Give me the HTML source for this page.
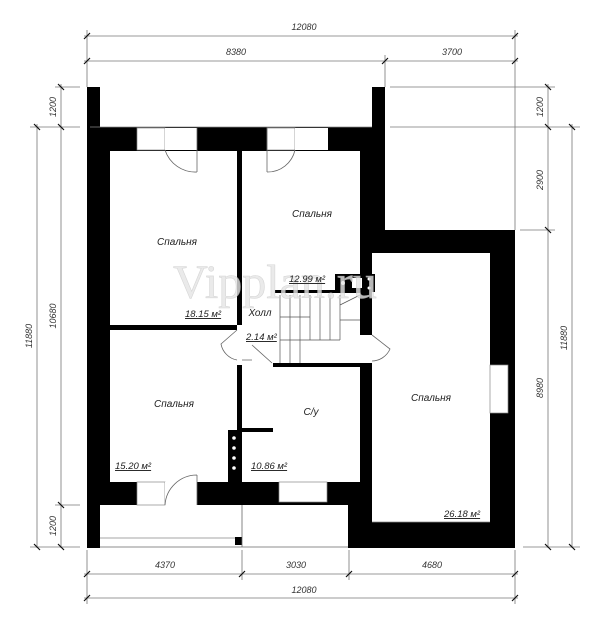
<!DOCTYPE html>
<html><head><meta charset="utf-8"><style>html,body{margin:0;padding:0;background:#fff}svg{display:block}</style></head>
<body>
<svg width="600" height="626" viewBox="0 0 600 626" xmlns="http://www.w3.org/2000/svg" font-family="Liberation Sans, sans-serif">
<rect width="600" height="626" fill="#fff"/>
<g stroke="#777" stroke-width="0.8" fill="none">
<line x1="84" y1="36" x2="518" y2="36"/>
<line x1="84" y1="61" x2="518" y2="61"/>
<line x1="87" y1="30" x2="87" y2="87"/>
<line x1="385" y1="55" x2="385" y2="87"/>
<line x1="515" y1="30" x2="515" y2="230"/>
<line x1="61" y1="84" x2="61" y2="548"/>
<line x1="37" y1="124" x2="37" y2="548"/>
<line x1="30" y1="127" x2="80" y2="127"/>
<line x1="55" y1="87" x2="80" y2="87"/>
<line x1="30" y1="547" x2="80" y2="547"/>
<line x1="55" y1="505" x2="80" y2="505"/>
<line x1="548" y1="84" x2="548" y2="548"/>
<line x1="572" y1="124" x2="572" y2="548"/>
<line x1="390" y1="87" x2="555" y2="87"/>
<line x1="390" y1="127" x2="580" y2="127"/>
<line x1="520" y1="230" x2="555" y2="230"/>
<line x1="523" y1="547" x2="580" y2="547"/>
<line x1="84" y1="574" x2="518" y2="574"/>
<line x1="84" y1="598" x2="518" y2="598"/>
<line x1="87" y1="550" x2="87" y2="604"/>
<line x1="242" y1="550" x2="242" y2="580"/>
<line x1="349" y1="550" x2="349" y2="580"/>
<line x1="515" y1="550" x2="515" y2="604"/>
</g>
<g stroke="#111" stroke-width="1.2">
<path d="M84 39l6-6M512 39l6-6M84 64l6-6M382 64l6-6M512 64l6-6M84 577l6-6M239 577l6-6M346 577l6-6M512 577l6-6M84 601l6-6M512 601l6-6"/>
<path d="M58 84l6 6M58 124l6 6M58 502l6 6M58 544l6 6M34 124l6 6M34 544l6 6M545 84l6 6M545 124l6 6M545 227l6 6M545 544l6 6M569 124l6 6M569 544l6 6"/>
</g>
<g font-size="9" font-style="italic" fill="#333" text-anchor="middle">
<text x="304" y="30">12080</text><text x="236" y="55">8380</text><text x="452" y="55">3700</text>
<text x="165" y="568">4370</text><text x="296" y="568">3030</text><text x="432" y="568">4680</text><text x="304" y="593">12080</text>
<text transform="translate(56 107) rotate(-90)">1200</text>
<text transform="translate(56 316) rotate(-90)">10680</text>
<text transform="translate(56 526) rotate(-90)">1200</text>
<text transform="translate(32 336) rotate(-90)">11880</text>
<text transform="translate(543 107) rotate(-90)">1200</text>
<text transform="translate(543 180) rotate(-90)">2900</text>
<text transform="translate(543 388) rotate(-90)">8980</text>
<text transform="translate(567 338) rotate(-90)">11880</text>
</g>
<g fill="#000">
<rect x="87" y="87" width="13" height="461"/>
<rect x="100" y="127" width="10" height="378"/>
<rect x="100" y="127" width="285" height="24"/>
<rect x="372" y="87" width="13" height="166"/>
<rect x="360" y="127" width="25" height="126"/>
<rect x="360" y="230" width="155" height="23"/>
<rect x="360" y="253" width="12" height="295"/>
<rect x="348" y="505" width="24" height="43"/>
<rect x="490" y="230" width="25" height="318"/>
<rect x="348" y="522" width="167" height="26"/>
<rect x="237" y="151" width="5" height="174"/>
<rect x="110" y="325" width="127" height="5"/>
<rect x="237" y="365" width="5" height="117"/>
<rect x="228" y="430" width="14" height="52"/>
<rect x="242" y="428" width="31" height="4"/>
<rect x="110" y="482" width="250" height="23"/>
<rect x="275" y="290" width="85" height="3"/>
<rect x="273" y="363" width="87" height="4"/>
<rect x="335" y="274" width="40" height="18"/>
<rect x="235" y="537" width="7" height="8"/>
</g>
<g fill="#fff" stroke="#888" stroke-width="0.7">
<rect x="137" y="128" width="28" height="22"/>
<rect x="165" y="128" width="32" height="22" stroke="none"/>
<rect x="267" y="128" width="28" height="22"/>
<rect x="295" y="128" width="33" height="22" stroke="none"/>
<rect x="137" y="482" width="28" height="23"/>
<rect x="165" y="482" width="32" height="23" stroke="none"/>
<rect x="279" y="482" width="48" height="20"/>
<rect x="490" y="365" width="18" height="48"/>
<rect x="360" y="335" width="12" height="28" stroke="none"/>
<rect x="237" y="330" width="5" height="35" stroke="none"/>
</g>
<g fill="none" stroke="#666" stroke-width="0.8">
<path d="M197 128v44M165 150a32 32 0 0 0 32 22"/>
<path d="M267 128v44M295 150a28 28 0 0 1 -28 22"/>
<path d="M197 505v-30M165 505a32 32 0 0 1 32 -30"/>
<path d="M372 335l18 14a20 20 0 0 1-18 12"/>
<path d="M237 330l-16 14a20 20 0 0 0 16 16"/>
<path d="M242 360l10 0M252 345l20 18"/>
<path d="M90 127h282" stroke="#888"/>
<path d="M100 538h135" stroke="#888"/>
<path d="M100 547h248"/>
<path d="M242 505v42"/>
<path d="M372 522h118" stroke="#888"/>
</g>
<g stroke="#555" stroke-width="0.7" fill="none">
<path d="M280 295v68M290 295v68M300 295v68M310 295v45M320 295v45M330 295v45M280 340h60M340 295v45M280 317h30M340 305l20-10M340 320h20"/>
</g>
<g fill="#fff"><circle cx="343" cy="283" r="2"/><rect x="352" y="278" width="10" height="10"/><circle cx="369" cy="279" r="1.5"/><circle cx="369" cy="288" r="1.5"/>
<circle cx="234" cy="438" r="1.8"/><circle cx="234" cy="448" r="1.8"/><circle cx="234" cy="458" r="1.8"/><circle cx="234" cy="468" r="1.8"/></g>
<text x="275" y="298" font-family="Liberation Serif, serif" font-size="48" fill="#e6e6e6" stroke="#ccc" stroke-width="0.6" text-anchor="middle" opacity="0.8">Vipplan.ru</text>
<g font-size="10" font-style="italic" fill="#222" text-anchor="middle">
<text x="177" y="245">Спальня</text>
<text x="312" y="217">Спальня</text>
<text x="260" y="316">Холл</text>
<text x="174" y="407">Спальня</text>
<text x="311" y="415">С/у</text>
<text x="431" y="401">Спальня</text>
</g>
<g font-size="9.5" font-style="italic" fill="#222" text-decoration="underline">
<text x="185" y="317">18.15 м²</text>
<text x="289" y="282">12.99 м²</text>
<text x="246" y="340">2.14 м²</text>
<text x="115" y="469">15.20 м²</text>
<text x="251" y="469">10.86 м²</text>
<text x="444" y="517">26.18 м²</text>
</g>
</svg>
</body></html>
